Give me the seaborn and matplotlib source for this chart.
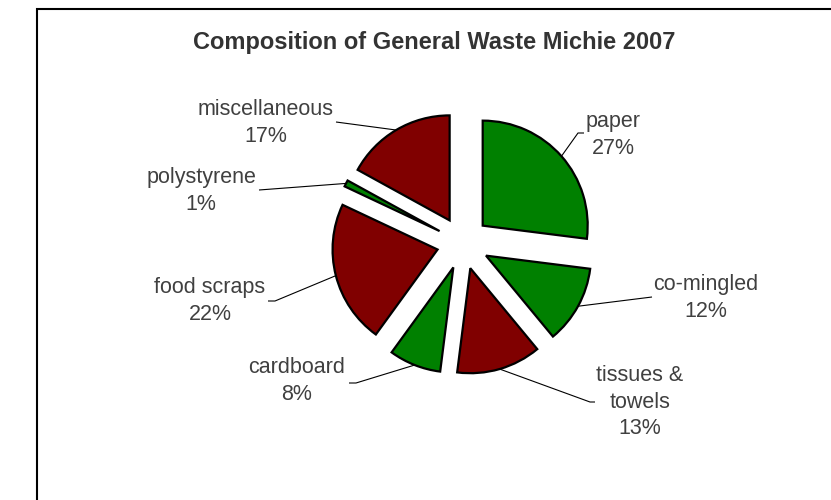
import numpy as np
import matplotlib
matplotlib.use("Agg")
import matplotlib.pyplot as plt
from matplotlib.patches import Rectangle
import seaborn as sns

# ---- data ----
categories = ["paper", "co-mingled", "tissues &\ntowels", "cardboard",
              "food scraps", "polystyrene", "miscellaneous"]
values = [27, 12, 13, 8, 22, 1, 17]
slice_colors = ["#008000", "#008000", "#800000", "#008000",
                "#800000", "#008000", "#800000"]
title = "Composition of General Waste Michie 2007"

# ---- layout (pixels of the 831x500 canvas) ----
W, H = 831, 500
CX, CY, R = 463, 243, 105          # pie centre and radius in px
explode_frac = 0.25

def px(x, y):
    return ((x - CX) / R, (CY - y) / R)

# label centre positions and leader-line bends (px)
label_pos = [(613, 135), (706, 298), (640, 402), (297, 381),
             (210, 301), (201, 191), (266, 123)]
leader_bend = [[(578, 133), (584, 133)],
               [(652, 297)],
               [(590, 402), (595, 402)],
               [(356, 383), (349, 383)],
               [(275, 301), (268, 301)],
               [(259, 190)],
               [(336, 122)]]

sns.set_theme(style="white")
plt.rcParams["font.family"] = ["Liberation Sans", "DejaVu Sans"]

fig = plt.figure(figsize=(W / 100, H / 100), dpi=100)
ax = fig.add_axes([0, 0, 1, 1])

wedges, _ = ax.pie(values, colors=slice_colors, startangle=90, counterclock=False,
                   explode=[explode_frac] * len(values), radius=1,
                   wedgeprops=dict(edgecolor="black", linewidth=1.6))

ax.set_xlim(-CX / R, (W - CX) / R)
ax.set_ylim(-(H - CY) / R, CY / R)
ax.set_aspect("auto")
ax.axis("off")

txt_color = "#404040"
total = sum(values)
for w, lab, v, pos, bends in zip(wedges, categories, values, label_pos, leader_bend):
    mid = np.deg2rad((w.theta1 + w.theta2) / 2)
    cx, cy = w.center
    sx, sy = cx + w.r * np.cos(mid), cy + w.r * np.sin(mid)
    pts = [(sx, sy)] + [px(*b) for b in bends]
    xs, ys = zip(*pts)
    ax.plot(xs, ys, color="black", lw=0.8, solid_capstyle="butt")
    tx, ty = px(*pos)
    ax.text(tx, ty, f"{lab}\n{round(100 * v / total)}%", ha="center", va="center",
            fontsize=15.5, color=txt_color, linespacing=1.35)

fig.text(434 / W, 1 - 42 / H, title, ha="center", va="center",
         fontsize=17, fontweight="bold", color="#333333")

fig.patches.append(Rectangle((37 / W, -0.1), 2, 1 - 9 / H + 0.1,
                             transform=fig.transFigure, fill=False,
                             edgecolor="black", linewidth=1.5))

fig.savefig("out.png", dpi=100, facecolor="white")
